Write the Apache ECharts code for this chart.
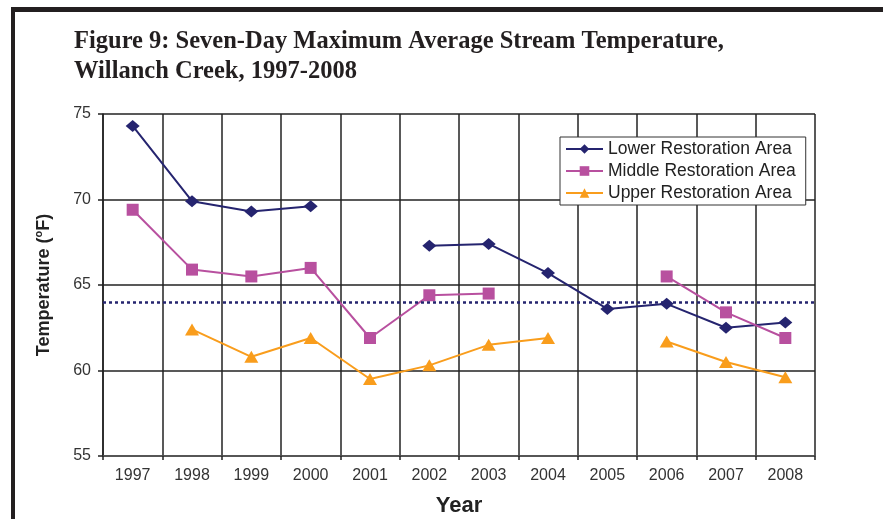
<!DOCTYPE html>
<html>
<head>
<meta charset="utf-8">
<script src="https://cdn.jsdelivr.net/npm/echarts@6/dist/echarts.min.js"></script>
<style>
html,body{margin:0;padding:0;background:#fff;}
#c{width:883px;height:519px;}
</style>
</head>
<body>
<div id="c"></div>
<script>
var years = ['1997','1998','1999','2000','2001','2002','2003','2004','2005','2006','2007','2008'];
var lowerArea  = [74.3, 69.9, 69.3, 69.6, null, 67.3, 67.4, 65.7, 63.6, 63.9, 62.5, 62.8];
var middleArea = [69.4, 65.9, 65.5, 66.0, 61.9, 64.4, 64.5, null, null, 65.5, 63.4, 61.9];
var upperArea  = [null, 62.4, 60.8, 61.9, 59.5, 60.3, 61.5, 61.9, null, 61.7, 60.5, 59.6];
var referenceTemp = 64;
var yTicks = [55, 60, 65, 70, 75];

var navy = '#25246f', magenta = '#b8509f', orange = '#f99d1c';
var chart = echarts.init(document.getElementById('c'), null, {renderer: 'canvas'});
chart.setOption({
  animation: false,
  backgroundColor: '#fff',
  title: {
    text: 'Figure 9: Seven-Day Maximum Average Stream Temperature,\nWillanch Creek, 1997-2008',
    left: 69, top: 22,
    textStyle: {fontFamily: 'Liberation Serif', fontWeight: 'bold', fontSize: 24.5, color: '#231f20', lineHeight: 30}
  },
  graphic: [
    {type: 'rect', shape: {x: 11, y: 7, width: 880, height: 5}, style: {fill: '#231f20'}},
    {type: 'rect', shape: {x: 11, y: 7, width: 4, height: 520}, style: {fill: '#231f20'}}
  ],
  legend: {
    orient: 'vertical', left: 560, top: 137,
    backgroundColor: '#fff', borderColor: '#333', borderWidth: 1,
    padding: [3, 10, 3, 5], itemGap: 4, itemWidth: 37, itemHeight: 12,
    textStyle: {fontFamily: 'Liberation Sans', fontSize: 17.5, color: '#222'},
    data: ['Lower Restoration Area', 'Middle Restoration Area', 'Upper Restoration Area']
  },
  grid: {left: 103, right: 68, top: 114, bottom: 63, containLabel: false, outerBoundsMode: 'none'},
  xAxis: {
    type: 'category', data: years, boundaryGap: true,
    name: 'Year', nameLocation: 'middle', nameGap: 39,
    nameTextStyle: {fontFamily: 'Liberation Sans', fontWeight: 'bold', fontSize: 22, color: '#222'},
    axisLine: {lineStyle: {color: '#555', width: 1.5}},
    axisTick: {show: true, length: 4, lineStyle: {color: '#222', width: 1.5}},
    axisLabel: {fontFamily: 'Liberation Sans', fontSize: 16, color: '#333', margin: 12},
    splitLine: {show: true, lineStyle: {color: '#222', width: 1.5}}
  },
  yAxis: {
    type: 'value', min: 55, max: 75, interval: 5,
    name: 'Temperature ({s|o}F)', nameLocation: 'middle', nameGap: 47, nameRotate: 90,
    nameTextStyle: {
      fontFamily: 'Liberation Sans', fontWeight: 'bold', fontSize: 18, color: '#222',
      rich: {s: {fontFamily: 'Liberation Sans', fontWeight: 'bold', fontSize: 11, color: '#222', verticalAlign: 'top', padding: [0,0,12,0]}}
    },
    axisLine: {show: true, lineStyle: {color: '#222', width: 1.5}},
    axisTick: {show: true, length: 5, lineStyle: {color: '#222', width: 1.5}},
    axisLabel: {fontFamily: 'Liberation Sans', fontSize: 16, color: '#333', margin: 12,
      formatter: function (v) { return yTicks.indexOf(v) >= 0 ? String(v) : ''; }},
    splitLine: {show: true, lineStyle: {color: '#222', width: 1.5}}
  },
  series: [
    {
      name: 'Lower Restoration Area', type: 'line', data: lowerArea, connectNulls: false,
      symbol: 'diamond', symbolSize: [14, 12], itemStyle: {color: navy}, lineStyle: {color: navy, width: 2},
      markLine: {
        silent: true, symbol: 'none', label: {show: false},
        lineStyle: {color: navy, type: [3, 3], width: 2.5},
        data: [{yAxis: referenceTemp}]
      }
    },
    {
      name: 'Middle Restoration Area', type: 'line', data: middleArea, connectNulls: false,
      symbol: 'rect', symbolSize: 12, itemStyle: {color: magenta}, lineStyle: {color: magenta, width: 2}
    },
    {
      name: 'Upper Restoration Area', type: 'line', data: upperArea, connectNulls: false,
      symbol: 'triangle', symbolSize: [14, 12], itemStyle: {color: orange}, lineStyle: {color: orange, width: 2}
    }
  ]
});
</script>
</body>
</html>
